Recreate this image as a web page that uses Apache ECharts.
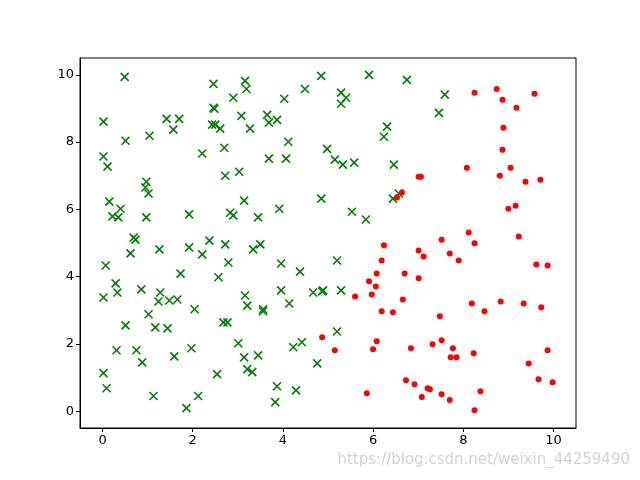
<!DOCTYPE html>
<html><head><meta charset="utf-8">
<script src="https://cdn.jsdelivr.net/npm/echarts@6/dist/echarts.min.js"></script>
<style>html,body{margin:0;padding:0;background:#fff}#c{width:640px;height:480px}</style>
</head><body><div id="c"></div>
<script>
const greenPts = [
[0.49,9.94],[2.46,9.73],[3.16,9.82],[3.19,9.58],[2.90,9.32],[2.46,9.02],[4.49,9.58],[4.85,9.97],[4.03,9.29],
[5.91,10.0],[6.75,9.85],[5.29,9.47],[5.40,9.32],[5.29,9.14],[7.59,9.41],[7.46,8.87],[6.31,8.46],[6.24,8.16],
[4.98,7.80],[5.15,7.48],[5.33,7.33],[5.58,7.39],[6.46,7.33],[4.85,6.32],[6.44,6.32],[6.57,6.47],[5.53,5.93],[5.84,5.70],
[0.02,8.61],[1.42,8.69],[1.70,8.69],[1.57,8.37],[1.04,8.19],[0.51,8.04],[2.48,8.99],[2.43,8.52],[2.50,8.52],[2.61,8.40],
[3.08,8.78],[3.27,8.40],[3.65,8.81],[3.69,8.58],[3.87,8.66],[4.12,8.01],[2.70,7.83],[2.21,7.66],[3.69,7.51],[4.07,7.51],
[2.72,7.00],[3.03,7.12],[0.02,7.57],[0.11,7.27],[0.97,6.82],[0.95,6.65],[1.02,6.47],[0.15,6.23],[0.40,6.02],[0.22,5.79],
[0.35,5.76],[0.97,5.76],[1.92,5.85],[2.83,5.90],[2.90,5.82],[3.14,6.26],[3.45,5.76],[3.92,6.02],
[0.69,5.16],[0.73,5.10],[1.26,4.81],[0.62,4.69],[1.92,4.87],[2.37,5.07],[2.72,4.96],[2.21,4.66],[3.34,4.81],[3.50,4.96],
[2.79,4.42],[0.07,4.33],[1.73,4.09],[2.57,3.98],[3.96,4.39],[4.38,4.15],[0.29,3.80],[0.33,3.53],[0.02,3.38],[0.86,3.62],
[1.28,3.53],[1.24,3.26],[1.48,3.29],[1.66,3.32],[2.04,3.03],[3.16,3.44],[3.21,3.14],[3.56,3.03],[3.56,2.97],[3.96,3.59],
[4.14,3.20],[4.67,3.53],[4.87,3.56],[1.02,2.88],[0.51,2.55],[1.17,2.49],[1.44,2.46],[2.68,2.64],[2.77,2.64],[0.31,1.81],
[0.75,1.81],[0.88,1.45],[1.59,1.63],[1.97,1.87],[3.01,2.02],[3.14,1.60],[3.45,1.66],[3.21,1.25],[3.32,1.16],[4.23,1.90],
[4.42,2.05],[4.76,1.42],[0.02,1.13],[0.09,0.68],[2.54,1.10],[3.87,0.74],[4.29,0.62],[3.83,0.27],[1.13,0.45],[2.12,0.45],
[1.86,0.09],[5.20,4.48],[4.89,3.59],[5.29,3.59],[5.20,2.37]
];
const redPts = [
[8.25,9.47],[8.74,9.58],[9.58,9.44],[8.87,9.26],[9.18,9.02],[8.89,8.43],[8.87,7.77],[8.08,7.24],[9.05,7.24],[8.81,7.00],
[9.38,6.82],[9.71,6.88],[7.01,6.97],[7.06,6.97],[6.64,6.50],[6.53,6.35],[9.16,6.11],[9.00,6.02],[8.12,5.31],[9.23,5.19],
[7.52,5.10],[6.24,4.93],[8.25,4.99],[7.01,4.78],[7.12,4.60],[7.70,4.69],[7.90,4.48],[6.19,4.48],[9.62,4.36],[9.87,4.33],
[6.08,4.09],[6.70,4.09],[5.91,3.86],[6.06,3.71],[7.01,3.95],[5.97,3.47],[5.60,3.41],[6.66,3.32],[8.19,3.20],[8.83,3.26],
[9.34,3.20],[8.47,2.97],[9.73,3.09],[6.19,2.97],[6.44,2.94],[7.48,2.82],[4.87,2.20],[5.15,1.81],[6.08,2.08],[6.00,1.84],
[6.84,1.87],[7.32,1.99],[7.52,2.11],[7.77,1.87],[7.72,1.60],[7.85,1.60],[8.23,1.72],[9.87,1.81],[9.45,1.42],[6.73,0.92],
[6.92,0.80],[7.21,0.68],[7.26,0.65],[9.67,0.95],[9.98,0.86],[5.86,0.53],[7.08,0.42],[7.52,0.50],[8.38,0.59],[7.70,0.33],
[8.25,0.03]
];
const xTicks = [0,2,4,6,8,10];
const yTicks = [0,2,4,6,8,10];
const ax = (ticks) => ({
  type:'value', min:-0.5, max:10.5,
  splitLine:{show:false},
  axisLine:{show:true,onZero:false,lineStyle:{color:'#000',width:1}},
  axisTick:{show:true,inside:false,length:4,customValues:ticks,lineStyle:{color:'#000'}},
  axisLabel:{customValues:ticks,color:'#000',fontSize:13,fontFamily:'DejaVu Sans',margin:6}
});
const chart = echarts.init(document.getElementById('c'),null,{renderer:'canvas'});
chart.setOption({
  animation:false,
  grid:{left:80,right:64,top:58,bottom:52,show:true,borderColor:'#000',borderWidth:1},
  xAxis:ax(xTicks),
  yAxis:ax(yTicks),
  series:[
    {type:'scatter',data:greenPts,symbol:'path://M0,0L10,10M10,0L0,10',symbolSize:8,
     itemStyle:{color:'rgba(0,0,0,0)',borderColor:'#008000',borderWidth:1.6,opacity:1}},
    {type:'scatter',data:redPts,symbol:'circle',symbolSize:6,itemStyle:{color:'#ff0000',opacity:1}}
  ],
  graphic:[{type:'text',right:10,top:453,style:{text:'https://blog.csdn.net/weixin_44259490',fill:'rgba(200,200,200,0.8)',font:'15px "DejaVu Sans"'}}]
});
</script></body></html>
